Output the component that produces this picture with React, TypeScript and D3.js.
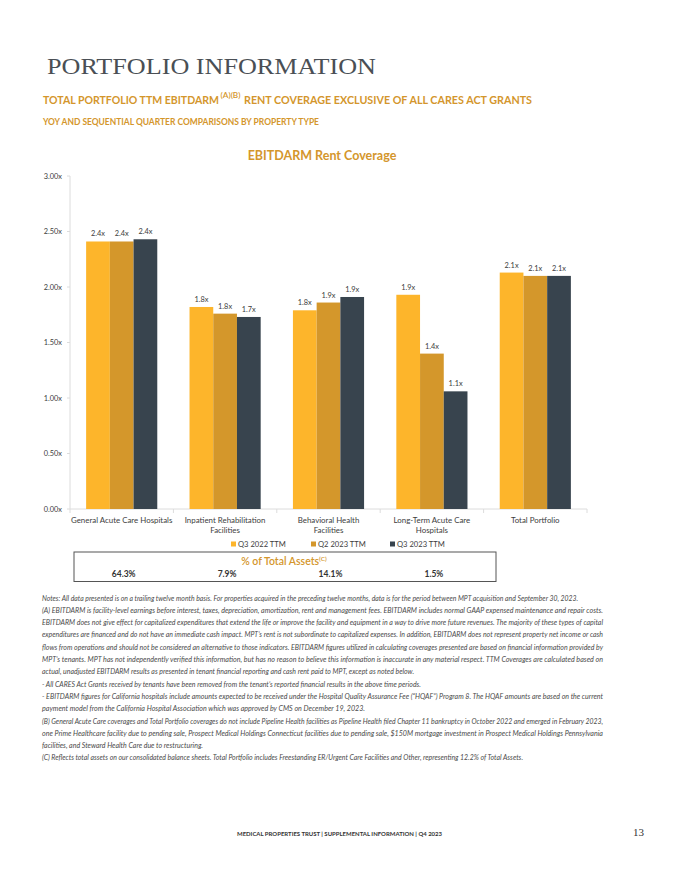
import React from "react";
import * as d3 from "d3";

const categories = [
  "General Acute Care Hospitals",
  "Inpatient Rehabilitation Facilities",
  "Behavioral Health Facilities",
  "Long-Term Acute Care Hospitals",
  "Total Portfolio",
];
const categoryLines = [
  ["General Acute Care Hospitals"],
  ["Inpatient Rehabilitation", "Facilities"],
  ["Behavioral Health", "Facilities"],
  ["Long-Term Acute Care", "Hospitals"],
  ["Total Portfolio"],
];
const seriesNames = ["Q3 2022 TTM", "Q2 2023 TTM", "Q3 2023 TTM"];
const q3_2022 = [2.41, 1.82, 1.79, 1.93, 2.13];
const q2_2023 = [2.41, 1.76, 1.86, 1.4, 2.1];
const q3_2023 = [2.43, 1.73, 1.91, 1.06, 2.1];
const seriesValues = [q3_2022, q2_2023, q3_2023];
const yTicks = [0, 0.5, 1, 1.5, 2, 2.5, 3];
const assetShares = ["64.3%", "7.9%", "14.1%", "1.5%"];
const seriesColors = ["#FDB52B", "#D4972B", "#38444E"];

const noteLines = [
  "Notes: All data presented is on a trailing twelve month basis. For properties acquired in the preceding twelve months, data is for the period between MPT acquisition and September 30, 2023.",
  "(A)  EBITDARM is facility-level earnings before interest, taxes, depreciation, amortization, rent and management fees. EBITDARM includes normal GAAP expensed maintenance and repair costs.",
  "EBITDARM does not give effect for capitalized expenditures that extend the life or improve the facility and equipment in a way to drive more future revenues. The majority of  these types of capital",
  "expenditures are financed and do not have an immediate cash impact. MPT\u2019s rent is not subordinate to capitalized expenses. In addition, EBITDARM does not represent property net income or cash",
  "flows from operations and should not be considered an alternative to those indicators. EBITDARM figures utilized in calculating coverages presented are based on financial information provided by",
  "MPT\u2019s tenants. MPT has not independently verified this information, but has no reason to believe this information is inaccurate in any material respect. TTM Coverages are calculated based on",
  "actual, unadjusted EBITDARM results as presented in tenant financial reporting and cash rent paid to MPT, except as noted below.",
  "- All CARES Act Grants received by tenants have been removed from the tenant\u2019s reported financial results in the above time periods.",
  "- EBITDARM figures for California hospitals include amounts expected to be received under the Hospital Quality Assurance Fee (\u201cHQAF\u201d) Program 8. The HQAF amounts are based on the current",
  "payment model from the California Hospital Association which was approved by CMS on December 19, 2023.",
  "(B) General Acute Care coverages and Total Portfolio coverages do not include Pipeline Health facilities as Pipeline Health filed Chapter 11 bankruptcy in October 2022 and emerged in February 2023,",
  "one Prime Healthcare facility due to pending sale, Prospect Medical Holdings Connecticut facilities due to pending sale, $150M mortgage investment in Prospect Medical Holdings Pennsylvania",
  "facilities, and Steward Health Care due to restructuring.",
  "(C) Reflects total assets on our consolidated balance sheets. Total Portfolio includes Freestanding ER/Urgent Care Facilities and Other, representing 12.2% of Total Assets.",
];
// right edge of each note line (layout)
const noteEnds = [578, 603, 603, 603, 603, 603, 414, 421, 603, 365, 603, 603, 203, 523];

const ORANGE = "#D4962C";
const TEXT = "#3d3d3d";
const SANS = "Lato, 'Open Sans', sans-serif";

export default function App() {
  const W = 680, H = 880;
  const x0 = d3.scaleBand<string>().domain(categories).range([70, 587]);
  const x1 = d3
    .scaleBand<string>()
    .domain(seriesNames)
    .range([0, x0.bandwidth()])
    .paddingInner(0)
    .paddingOuter(0.68);
  const y = d3.scaleLinear().domain([0, 3]).range([509, 176]);
  const fmtTick = (v: number) => d3.format(".2f")(v) + "x";
  const fmtVal = (v: number) => d3.format(".1f")(v) + "x";
  const boundaries = [...categories.map((c) => x0(c) as number), 587];

  return (
    <svg
      width={W}
      height={H}
      viewBox={`0 0 ${W} ${H}`}
      style={{ position: "absolute", left: 0, top: 0, background: "#fff" }}
    >
      <rect width={W} height={H} fill="#fff" />
      {/* Page headings */}
      <text
        x={47}
        y={73.5}
        fontFamily="'Liberation Serif', 'DejaVu Serif', serif"
        fontSize={24}
        fill="#4a4f55"
        textLength={329}
        lengthAdjust="spacingAndGlyphs"
      >
        PORTFOLIO INFORMATION
      </text>
      <text
        x={43}
        y={103.5}
        fontFamily={SANS}
        fontWeight={700}
        fontSize={10.6}
        fill={ORANGE}
        textLength={176}
        lengthAdjust="spacingAndGlyphs"
      >
        TOTAL PORTFOLIO TTM EBITDARM
      </text>
      <text
        x={220.5}
        y={97.5}
        fontFamily={SANS}
        fontWeight={600}
        fontSize={7.2}
        fill={ORANGE}
        textLength={20}
        lengthAdjust="spacingAndGlyphs"
      >
        (A)(B)
      </text>
      <text
        x={244}
        y={103.5}
        fontFamily={SANS}
        fontWeight={700}
        fontSize={10.6}
        fill={ORANGE}
        textLength={288}
        lengthAdjust="spacingAndGlyphs"
      >
        RENT COVERAGE EXCLUSIVE OF ALL CARES ACT GRANTS
      </text>
      <text
        x={43}
        y={125}
        fontFamily={SANS}
        fontWeight={700}
        fontSize={8.5}
        fill={ORANGE}
        textLength={276}
        lengthAdjust="spacingAndGlyphs"
      >
        YOY AND SEQUENTIAL QUARTER COMPARISONS BY PROPERTY TYPE
      </text>

      {/* Chart title */}
      <text
        x={322}
        y={160}
        textAnchor="middle"
        fontFamily={SANS}
        fontWeight={700}
        fontSize={12.5}
        fill={ORANGE}
      >
        EBITDARM Rent Coverage
      </text>

      {/* Axes */}
      <line x1={70} x2={70} y1={y(3)} y2={y(0)} stroke="#dcdcdc" strokeWidth={1} />
      <line x1={70} x2={587} y1={y(0)} y2={y(0)} stroke="#dcdcdc" strokeWidth={1} />
      {yTicks.map((t) => (
        <g key={t}>
          <line x1={67} x2={70} y1={y(t)} y2={y(t)} stroke="#dcdcdc" />
          <text
            x={62}
            y={y(t) + 2.6}
            textAnchor="end"
            fontFamily={SANS}
            fontSize={7.4}
            fill={TEXT}
          >
            {fmtTick(t)}
          </text>
        </g>
      ))}
      {boundaries.map((b, i) => (
        <line key={i} x1={b} x2={b} y1={y(0)} y2={y(0) + 4} stroke="#dcdcdc" />
      ))}

      {/* Bars */}
      {categories.map((c, ci) => (
        <g key={c} transform={`translate(${x0(c)},0)`}>
          {seriesNames.map((s, si) => {
            const v = seriesValues[si][ci];
            const bx = x1(s) as number;
            return (
              <g key={s}>
                <rect
                  x={bx}
                  y={y(v)}
                  width={x1.bandwidth()}
                  height={y(0) - y(v)}
                  fill={seriesColors[si]}
                />
                <text
                  x={bx + x1.bandwidth() / 2}
                  y={y(v) - 5}
                  textAnchor="middle"
                  fontFamily={SANS}
                  fontSize={7.4}
                  fill={TEXT}
                >
                  {fmtVal(v)}
                </text>
              </g>
            );
          })}
        </g>
      ))}

      {/* Category labels */}
      {categories.map((c, ci) =>
        categoryLines[ci].map((line, li) => (
          <text
            key={c + li}
            x={(x0(c) as number) + x0.bandwidth() / 2}
            y={522.5 + li * 10}
            textAnchor="middle"
            fontFamily={SANS}
            fontSize={7.9}
            fill={TEXT}
          >
            {line}
          </text>
        ))
      )}

      {/* Legend */}
      {seriesNames.map((s, si) => {
        const lx = [231, 311, 390][si];
        return (
          <g key={s}>
            <rect x={lx} y={541.5} width={5} height={5} fill={seriesColors[si]} />
            <text x={lx + 7} y={547} fontFamily={SANS} fontSize={7.6} fill={TEXT}>
              {s}
            </text>
          </g>
        );
      })}

      {/* % of total assets box */}
      <rect x={74} y={552} width={422} height={29.5} fill="none" stroke="#555" strokeWidth={1} />
      <text x={284} y={565} textAnchor="middle" fontFamily={SANS} fontWeight={600} fontSize={10.5} fill={ORANGE}>
        % of Total Assets
        <tspan dy={-4} fontSize={6.5}>(C)</tspan>
      </text>
      {assetShares.map((a, i) => (
        <text
          key={i}
          x={(x0(categories[i]) as number) + x0.bandwidth() / 2 + 2}
          y={577}
          textAnchor="middle"
          fontFamily={SANS}
          fontWeight={700}
          fontSize={8.5}
          fill="#333"
        >
          {a}
        </text>
      ))}

      {/* Notes */}
      {noteLines.map((l, i) => (
        <text
          key={i}
          x={42}
          y={600.5 + i * 12.3}
          fontFamily={SANS}
          fontStyle="italic"
          fontSize={7}
          fill="#4a4a4a"
          textLength={noteEnds[i] - 42}
          lengthAdjust="spacingAndGlyphs"
        >
          {l}
        </text>
      ))}

      {/* Footer */}
      <text
        x={237}
        y={835.5}
        fontFamily={SANS}
        fontWeight={700}
        fontSize={6}
        fill="#333"
        textLength={205}
        lengthAdjust="spacingAndGlyphs"
      >
        MEDICAL PROPERTIES TRUST | SUPPLEMENTAL INFORMATION | Q4 2023
      </text>
      <text
        x={633}
        y={835.5}
        fontFamily="'Liberation Serif', serif"
        fontSize={11}
        fill="#333"
      >
        13
      </text>
    </svg>
  );
}
